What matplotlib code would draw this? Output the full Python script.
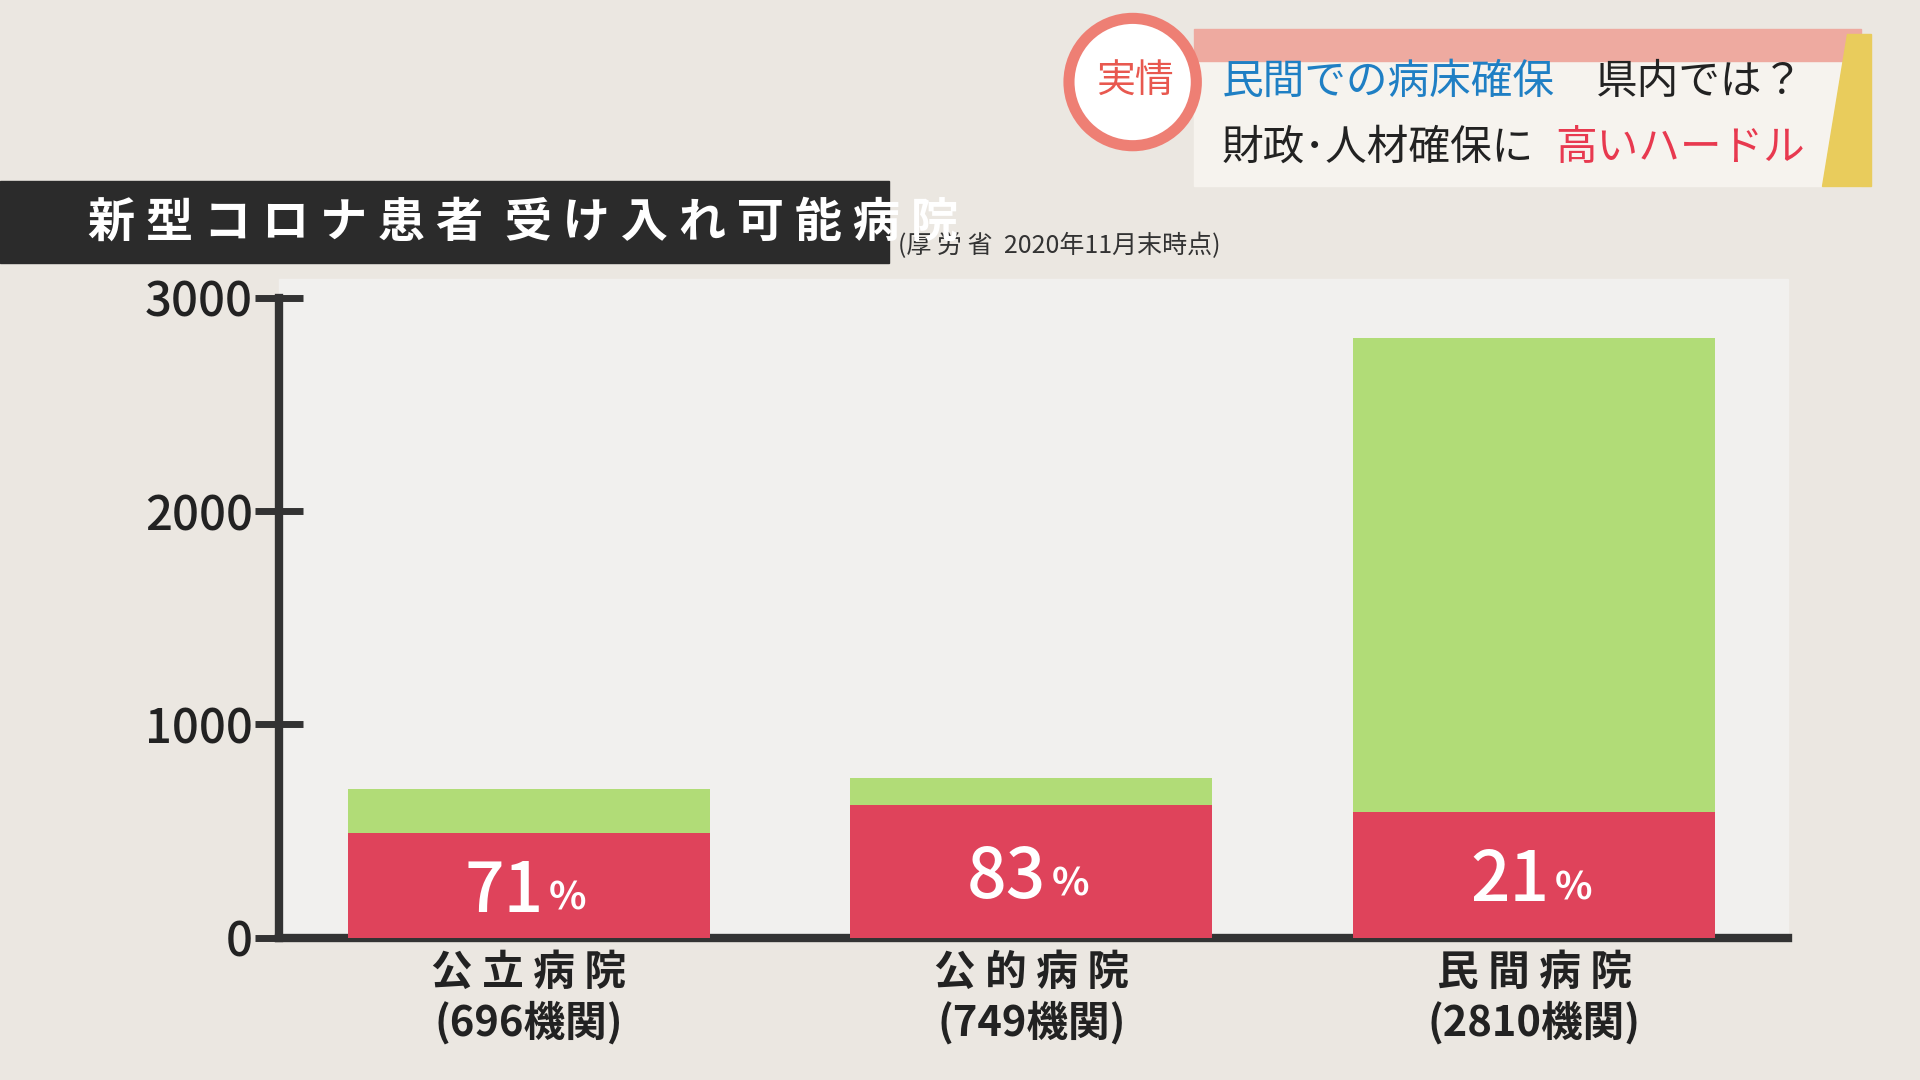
import matplotlib
matplotlib.use("Agg")
import matplotlib.pyplot as plt
from matplotlib.patches import Rectangle, Ellipse, Polygon

plt.rcParams['font.family'] = ['Noto Sans CJK JP', 'DejaVu Sans']

categories = ["公 立 病 院", "公 的 病 院", "民 間 病 院"]
counts_label = ["(696機関)", "(749機関)", "(2810機関)"]
totals = [696, 749, 2810]
accepting = [494, 622, 590]
percents = ["71", "83", "21"]
yticks = [0, 1000, 2000, 3000]

W, H = 1568, 882
def fx(x): return x / W
def fy(y): return 1 - y / H

fig = plt.figure(figsize=(19.2, 10.8), dpi=100)
fig.patch.set_facecolor("#ebe7e1")
fig.add_artist(Rectangle((fx(228), fy(766)), fx(1460) - fx(228), fy(228) - fy(766),
                         transform=fig.transFigure, color="#f1f0ee", zorder=0))

ax = fig.add_axes([fx(228), fy(766), fx(1460) - fx(228), fy(243) - fy(766)])
ax.set_facecolor("none")
x = range(len(categories))
ax.bar(x, totals, width=0.72, color="#b1dc77", zorder=2)
ax.bar(x, accepting, width=0.72, color="#df435b", zorder=3)
for i, p in enumerate(percents):
    ax.text(i + 0.03, accepting[i] * 0.5 - 30, p, ha="right", va="center", color="white",
            fontsize=50, fontweight="medium", zorder=4)
    ax.text(i + 0.04, accepting[i] * 0.5 - 60, "%", ha="left", va="center", color="white",
            fontsize=28, fontweight="bold", zorder=4)
ax.set_xlim(-0.496, 2.504)
ax.set_ylim(0, 3000)
ax.set_yticks(yticks)
ax.set_yticklabels([str(t) for t in yticks], fontsize=34, color="#222", fontweight="medium")
ax.tick_params(axis="y", direction="inout", length=34, width=5, color="#333", pad=2)
ax.set_xticks(list(x))
ax.set_xticklabels([f"{c}\n{n}" for c, n in zip(categories, counts_label)],
                   fontsize=30, color="#222", linespacing=1.2, fontweight="bold")
ax.tick_params(axis="x", length=0, pad=10)
for s in ["top", "right"]:
    ax.spines[s].set_visible(False)
for s in ["left", "bottom"]:
    ax.spines[s].set_linewidth(6)
    ax.spines[s].set_color("#333")

fig.add_artist(Rectangle((0, fy(215)), fx(726), fy(148) - fy(215), transform=fig.transFigure,
                         color="#2b2b2b", zorder=5))
fig.text(fx(72), fy(182), "新 型 コ ロ ナ 患 者  受 け 入 れ 可 能 病 院", fontsize=34,
         fontweight="bold", color="white", va="center", ha="left", zorder=6)
fig.text(fx(733), fy(201), "(厚 労 省  2020年11月末時点)", fontsize=18, color="#333",
         va="center", ha="left")

fig.add_artist(Rectangle((fx(975), fy(152)), fx(1520) - fx(975), fy(28) - fy(152),
                         transform=fig.transFigure, color="#f6f3ee", zorder=5))
fig.add_artist(Rectangle((fx(975), fy(50)), fx(1520) - fx(975), fy(24) - fy(50),
                         transform=fig.transFigure, color="#eeaaa0", zorder=5))
fig.add_artist(Polygon([(fx(1488), fy(152)), (fx(1528), fy(152)), (fx(1528), fy(28)),
                        (fx(1508), fy(28))], closed=True, transform=fig.transFigure,
                       color="#e9cc5c", zorder=5))
r = 52
fig.add_artist(Ellipse((fx(925), fy(67)), 2 * r / W, 2 * r / H, transform=fig.transFigure,
                       facecolor="white", edgecolor="#ee7f74", linewidth=8, zorder=6))
fig.text(fx(927), fy(67), "実情", fontsize=28, color="#e8584f", ha="center", va="center", zorder=7)
fig.text(fx(998), fy(67), "民間での病床確保", fontsize=30, color="#1f7fc4", va="center", zorder=7)
fig.text(fx(1303), fy(67), "県内では？", fontsize=30, color="#222", va="center", zorder=7)
fig.text(fx(998), fy(121), "財政･人材確保に", fontsize=30, color="#222", va="center", zorder=7)
fig.text(fx(1270), fy(121), "高いハードル", fontsize=30, color="#e8394f", va="center", zorder=7)

fig.savefig("out.png", dpi=100, facecolor=fig.get_facecolor())
